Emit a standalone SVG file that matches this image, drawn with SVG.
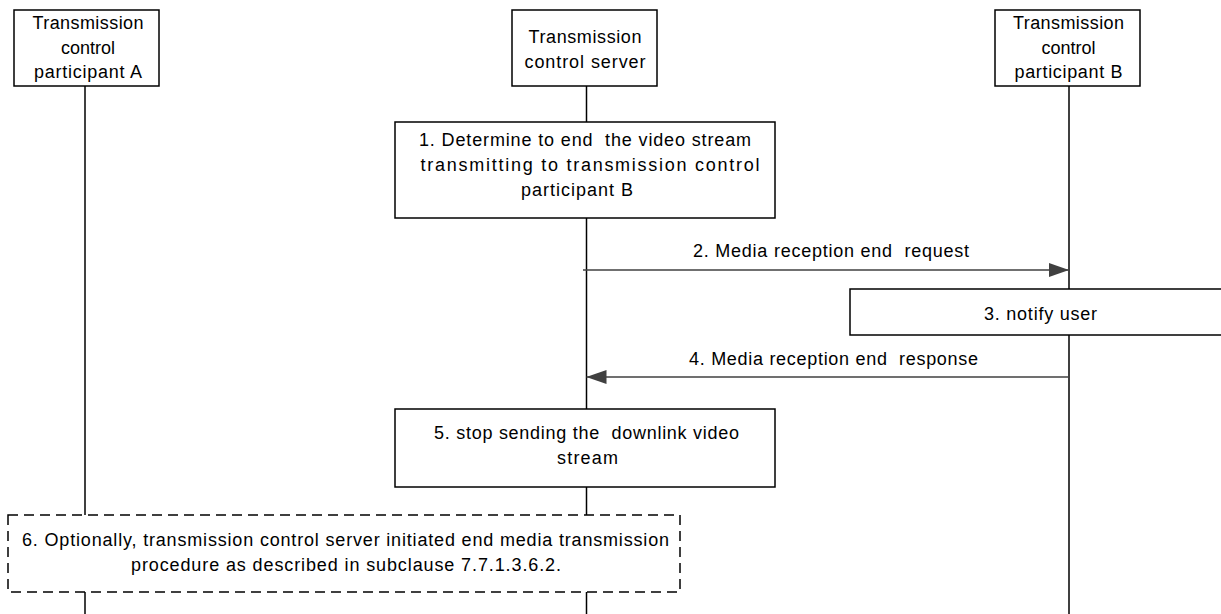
<svg xmlns="http://www.w3.org/2000/svg" width="1221" height="614" viewBox="0 0 1221 614">
<style>
  text { font-family: "Liberation Sans", Arial, sans-serif; font-size: 18px; fill: #000; text-anchor: middle; white-space: pre; }
  .box { fill: #fff; stroke: #000; stroke-width: 1.5; }
  .dash { fill: #fff; stroke: #000; stroke-width: 1.5; stroke-dasharray: 10 6; }
  .life { stroke: #000; stroke-width: 1.5; fill: none; }
  .msg { stroke: #404040; stroke-width: 1.5; fill: none; }
</style>
<defs>
  <marker id="ah" viewBox="0 0 20 14" refX="20" refY="7" markerWidth="20" markerHeight="14" markerUnits="userSpaceOnUse" orient="auto">
    <path d="M0,0 L20,7 L0,14 Z" fill="#404040"/>
  </marker>
</defs>
<g id="connectors">
  <line class="life" x1="85" y1="86" x2="85" y2="515"/>
  <line class="life" x1="85" y1="592" x2="85" y2="614"/>
  <line class="life" x1="586.5" y1="86" x2="586.5" y2="122"/>
  <line class="life" x1="586.5" y1="218" x2="586.5" y2="409"/>
  <line class="life" x1="586.5" y1="487" x2="586.5" y2="515"/>
  <line class="life" x1="586.5" y1="592" x2="586.5" y2="614"/>
  <line class="life" x1="1069" y1="86" x2="1069" y2="290"/>
  <line class="life" x1="1069" y1="335" x2="1069" y2="614"/>
  <line id="msg2" class="msg" x1="583" y1="270" x2="1069" y2="270" marker-end="url(#ah)"/>
  <text x="831" y="257" textLength="276" lengthAdjust="spacing">2. Media reception end  request</text>
  <line id="msg4" class="msg" x1="1069" y1="377" x2="586.5" y2="377" marker-end="url(#ah)"/>
  <text x="833.5" y="365" textLength="289" lengthAdjust="spacing">4. Media reception end  response</text>
</g>
<g id="nodeA">
  <rect class="box" x="14" y="10" width="145" height="76"/>
  <text x="88" y="29" textLength="111" lengthAdjust="spacing">Transmission</text>
  <text x="88" y="53.5">control</text>
  <text x="88" y="78" textLength="108" lengthAdjust="spacing">participant A</text>
</g>
<g id="nodeServer">
  <rect class="box" x="512" y="10" width="145" height="76"/>
  <text x="585" y="43" textLength="113" lengthAdjust="spacing">Transmission</text>
  <text x="585" y="68" textLength="121" lengthAdjust="spacing">control server</text>
</g>
<g id="nodeB">
  <rect class="box" x="995" y="10" width="145" height="76"/>
  <text x="1068.5" y="29" textLength="111" lengthAdjust="spacing">Transmission</text>
  <text x="1068.5" y="53.5">control</text>
  <text x="1068.5" y="78" textLength="108" lengthAdjust="spacing">participant B</text>
</g>
<g id="step1">
  <rect class="box" x="395" y="122" width="380" height="96"/>
  <text x="585" y="146" textLength="332" lengthAdjust="spacing">1. Determine to end  the video stream</text>
  <text x="590" y="171" textLength="339" lengthAdjust="spacing">transmitting to transmission control</text>
  <text x="577" y="196" textLength="112" lengthAdjust="spacing">participant B</text>
</g>
<g id="step3">
  <rect class="box" x="850" y="289" width="390" height="46"/>
  <text x="1040.5" y="320" textLength="113" lengthAdjust="spacing">3. notify user</text>
</g>
<g id="step5">
  <rect class="box" x="395" y="409" width="380" height="78"/>
  <text x="586.5" y="439" textLength="305" lengthAdjust="spacing">5. stop sending the  downlink video</text>
  <text x="587.5" y="464" textLength="61" lengthAdjust="spacing">stream</text>
</g>
<g id="step6">
  <rect class="dash" x="8" y="515" width="672" height="77"/>
  <text x="345.5" y="546" textLength="647" lengthAdjust="spacing">6. Optionally, transmission control server initiated end media transmission</text>
  <text x="346" y="571" textLength="430" lengthAdjust="spacing">procedure as described in subclause 7.7.1.3.6.2.</text>
</g>
</svg>
